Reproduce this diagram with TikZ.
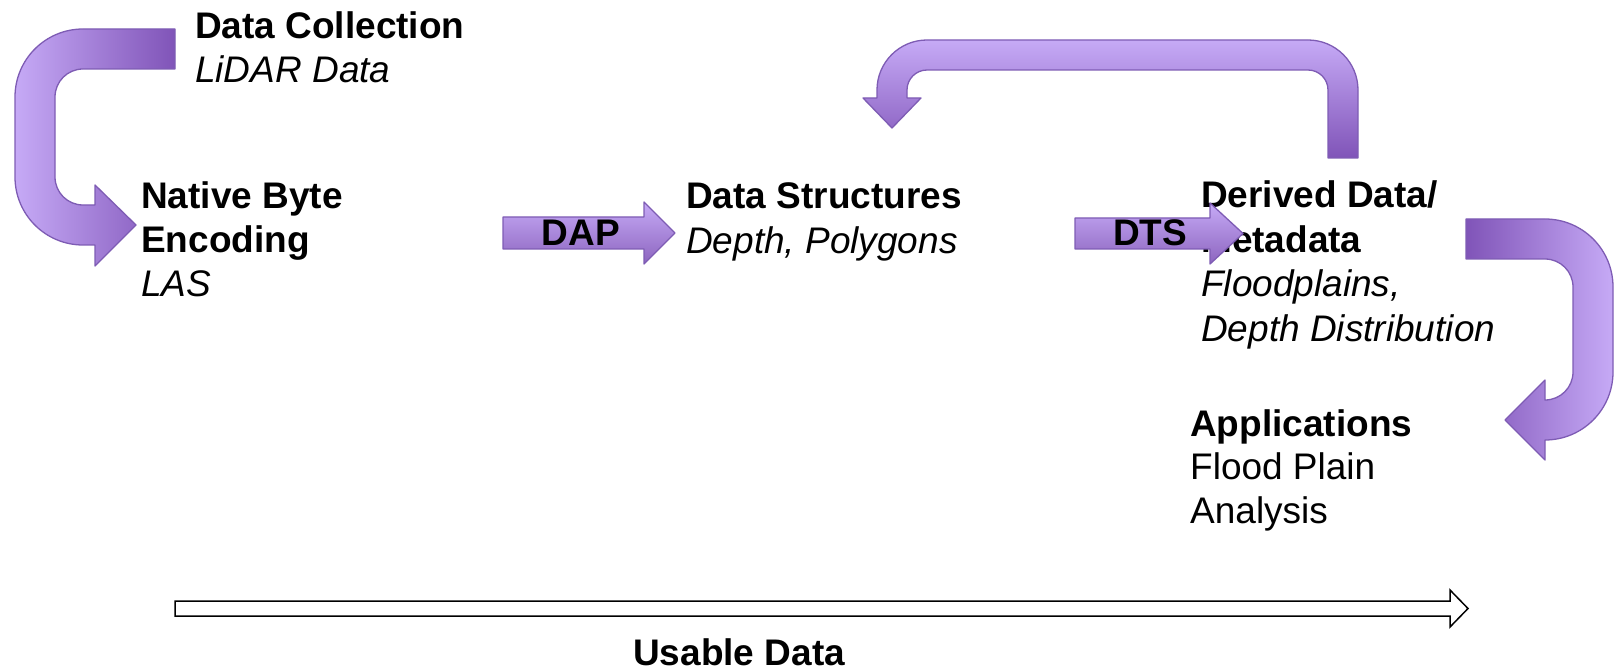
\documentclass[tikz,border=0pt]{standalone}
\usepackage{fontspec}
\setmainfont{Liberation Sans}
\definecolor{lav}{RGB}{198,170,246}
\definecolor{plum}{RGB}{128,84,184}
\definecolor{rim}{RGB}{126,92,180}
\tikzset{
  blk/.style={draw=rim, line width=1.3pt, line join=round},
  txt/.style={inner sep=0pt, anchor=base west, font=\fontsize{37}{44}\selectfont},
  hd/.style={txt, font=\fontsize{37}{44}\selectfont\bfseries},
  sub/.style={txt, font=\fontsize{37}{44}\selectfont\itshape},
  tag/.style={inner sep=0pt, anchor=base, font=\fontsize{37}{44}\selectfont\bfseries},
  usable/.style={draw=black, fill=white, line width=1.5pt, line join=miter},
}
\begin{document}
\begin{tikzpicture}[x=1pt,y=-1pt]
\useasboundingbox (0,0) rectangle (1615,671);

% ---- text blocks ----
\node[hd]  (dc1) at (195,39)  {Data Collection};
\node[sub] (dc2) at (195,83)  {LiDAR Data};

\node[hd]  (nb1) at (141,209) {Native Byte};
\node[hd]  (nb2) at (141,253) {Encoding};
\node[sub] (nb3) at (141,297) {LAS};

\node[hd]  (ds1) at (686,209) {Data Structures};
\node[sub] (ds2) at (686,254) {Depth, Polygons};

\node[hd]  (dd1) at (1201,208) {Derived Data/};
\node[hd]  (dd2) at (1201,253) {Metadata};
\node[sub] (dd3) at (1201,297) {Floodplains,};
\node[sub] (dd4) at (1201,341) {Depth Distribution};

\node[hd]  (ap1) at (1190,436) {Applications};
\node[txt] (ap2) at (1190,479) {Flood Plain};
\node[txt] (ap3) at (1190,523) {Analysis};

\node[hd]  (ud)  at (633,665) {Usable Data};

% ---- curved block arrow: collection -> encoding ----
\shade[blk, left color=lav, right color=plum]
  (175,29) -- (83,29) .. controls (45.44,29) and (15,59.44) .. (15,97)
  -- (15,177) .. controls (15,214.56) and (45.44,245) .. (83,245)
  -- (95,245) -- (95,266) -- (136,225) -- (95,185) -- (95,205) -- (83,205)
  .. controls (67.54,205) and (55,192.46) .. (55,177)
  -- (55,97) .. controls (55,81.54) and (67.54,69) .. (83,69)
  -- (175,69) -- cycle;

% ---- return arrow over the top ----
\shade[blk, top color=lav, bottom color=plum]
  (1358,158) -- (1358,90) .. controls (1358,62.4) and (1335.6,40) .. (1308,40)
  -- (927,40) .. controls (899.4,40) and (877,62.4) .. (877,90)
  -- (877,98) -- (863,98) -- (892,128) -- (921,98) -- (907,98) -- (907,90)
  .. controls (907,78.95) and (915.95,70) .. (927,70)
  -- (1308,70) .. controls (1319.05,70) and (1328,78.95) .. (1328,90)
  -- (1328,158) -- cycle;

% ---- curved block arrow: derived data -> applications ----
\shade[blk, left color=plum, right color=lav]
  (1466,219) -- (1545,219) .. controls (1582.56,219) and (1613,249.44) .. (1613,287)
  -- (1613,372) .. controls (1613,409.56) and (1582.56,440) .. (1545,440)
  -- (1545,460) -- (1505,420) -- (1545,380) -- (1545,400)
  .. controls (1560.46,400) and (1573,387.46) .. (1573,372)
  -- (1573,287) .. controls (1573,271.54) and (1560.46,259) .. (1545,259)
  -- (1466,259) -- cycle;

% ---- straight block arrows ----
\shade[blk, top color=lav, bottom color=plum!90]
  (503,217) -- (644,217) -- (644,202) -- (675,233) -- (644,264) -- (644,249) -- (503,249) -- cycle;
\node[tag] (dap) at (581,246) {DAP};

\shade[blk, top color=lav, bottom color=plum!90]
  (1075,218) -- (1210,218) -- (1210,203) -- (1243,233.5) -- (1210,264) -- (1210,249) -- (1075,249) -- cycle;
\node[tag] (dts) at (1150,246) {DTS};

% ---- usable data axis ----
\draw[usable] (175,601) -- (1450,601) -- (1450,590) -- (1468,608.5) -- (1450,627) -- (1450,616) -- (175,616) -- cycle;
\end{tikzpicture}
\end{document}
